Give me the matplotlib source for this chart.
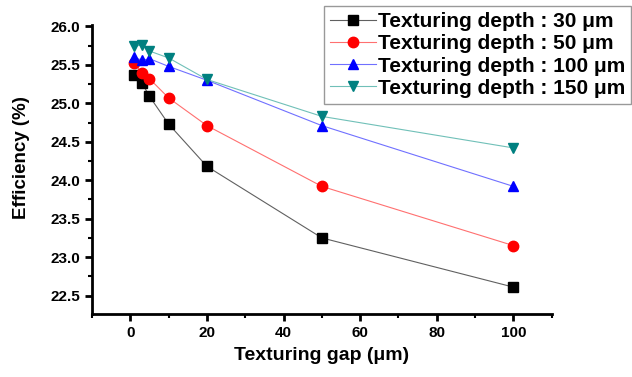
import matplotlib.pyplot as plt
from matplotlib.ticker import MultipleLocator

plt.rcParams['font.family'] = ['Liberation Sans', 'DejaVu Sans']
plt.rcParams['font.weight'] = 'bold'

# texturing gap (um)
gap = [1, 3, 5, 10, 20, 50, 100]

# efficiency (%) per texturing depth
eff_30 = [25.37, 25.27, 25.09, 24.73, 24.18, 23.25, 22.61]
eff_50 = [25.53, 25.39, 25.32, 25.07, 24.71, 23.92, 23.15]
eff_100 = [25.60, 25.56, 25.58, 25.48, 25.30, 24.71, 23.92]
eff_150 = [25.74, 25.76, 25.68, 25.59, 25.31, 24.83, 24.42]

labels = ['Texturing depth : 30 \u03bcm', 'Texturing depth : 50 \u03bcm',
          'Texturing depth : 100 \u03bcm', 'Texturing depth : 150 \u03bcm']

fig = plt.figure(figsize=(6.32, 3.77), dpi=100)
ax = fig.add_axes([0.1456, 0.167, 0.7274, 0.767])

ax.plot(gap, eff_30, color='#606060', lw=0.8, marker='s', ms=6.5,
        mfc='black', mec='black', label=labels[0])
ax.plot(gap, eff_50, color='#ff7070', lw=0.8, marker='o', ms=7.5,
        mfc='red', mec='red', label=labels[1])
ax.plot(gap, eff_100, color='#7070ff', lw=0.8, marker='^', ms=7.5,
        mfc='blue', mec='blue', label=labels[2])
ax.plot(gap, eff_150, color='#70c0b8', lw=0.8, marker='v', ms=7.5,
        mfc='#008080', mec='#008080', label=labels[3])

ax.set_xlim(-10, 110)
ax.set_ylim(22.26, 26.02)
ax.xaxis.set_major_locator(MultipleLocator(20))
ax.xaxis.set_minor_locator(MultipleLocator(10))
ax.yaxis.set_major_locator(MultipleLocator(0.5))
ax.yaxis.set_minor_locator(MultipleLocator(0.25))
ax.yaxis.set_major_formatter(plt.FormatStrFormatter('%.1f'))

for s in ['top', 'right']:
    ax.spines[s].set_visible(False)
for s in ['left', 'bottom']:
    ax.spines[s].set_linewidth(2)

ax.tick_params(which='major', direction='out', length=5, width=2, labelsize=11)
ax.tick_params(which='minor', direction='out', length=3, width=1.5)
for t in ax.get_xticklabels() + ax.get_yticklabels():
    t.set_fontweight('bold')

ax.set_xlabel('Texturing gap (\u03bcm)', fontsize=14, fontweight='bold', labelpad=5)
ax.set_ylabel('Efficiency (%)', fontsize=13.5, fontweight='bold')
ax.yaxis.set_label_coords(-0.135, 0.54)

leg = ax.legend(loc='upper right', bbox_to_anchor=(0.999, 0.984),
                bbox_transform=fig.transFigure, borderaxespad=0,
                numpoints=1, handlelength=2.2, handletextpad=0.1,
                labelspacing=0.15, fancybox=False, edgecolor='#808080',
                prop={'weight': 'bold', 'size': 15}, borderpad=0.3)
leg.get_frame().set_linewidth(1)

fig.savefig('out.png', dpi=100)
